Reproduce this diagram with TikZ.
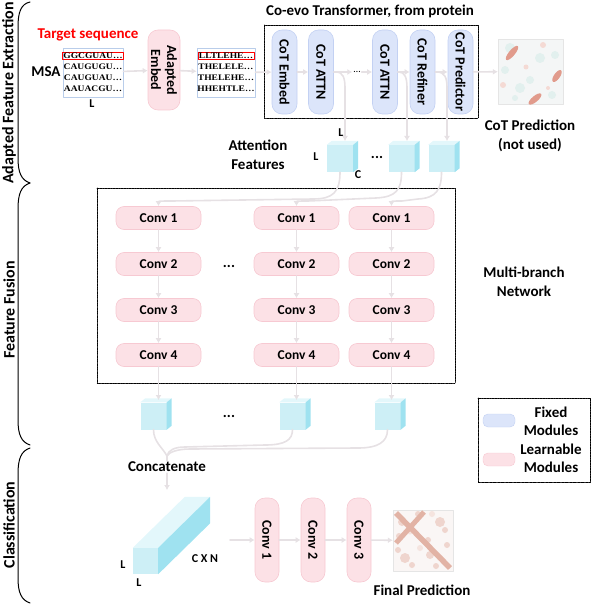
\documentclass[tikz,border=0pt]{standalone}
\usepackage{fontspec}
\setmainfont{Carlito}
\newfontfamily\seqfont{Liberation Serif}
\usetikzlibrary{arrows.meta,calc}
\definecolor{flowgray}{HTML}{E6E1E4}
\definecolor{pinkfill}{HTML}{FCE1E6}
\definecolor{pinkline}{HTML}{F7C9D2}
\definecolor{bluefill}{HTML}{DCE5FA}
\definecolor{blueline}{HTML}{C3D1F3}
\definecolor{cubefront}{HTML}{CDEFF6}
\definecolor{cubeside}{HTML}{9FE2F0}
\definecolor{cubetop}{HTML}{E3F7FB}
\definecolor{seqbox}{HTML}{B9CDEA}
\definecolor{predbg}{HTML}{F4F6F6}
\definecolor{predred}{HTML}{D9826F}
\definecolor{predteal}{HTML}{E2F0EE}
\definecolor{finalbg}{HTML}{FAF6F5}
\definecolor{finalc}{HTML}{E2B3A5}
\newcommand{\featcube}[2]{%
  \node[cubeface] (#1) at (#2) {};
  \fill[cubetop] (#1.north west) -- ++(5,-4) -- ($(#1.north east)+(5,-4)$) -- (#1.north east) -- cycle;
  \fill[cubeside] (#1.north east) -- ++(5,-4) -- ($(#1.south east)+(5,-4)$) -- (#1.south east) -- cycle;
}

\begin{document}
\begin{tikzpicture}[x=1pt,y=-1pt,line cap=round,line join=round,
  every node/.style={font=\fontsize{15}{18.5}\selectfont\bfseries,inner sep=1pt},
  flow/.style={draw=flowgray,line width=1.6pt,-{Latex[length=5pt,width=6pt]}},
  flowline/.style={draw=flowgray,line width=1.6pt},
  fixedmod/.style={draw=blueline,fill=bluefill,rounded corners=10pt,line width=0.6pt,inner sep=0pt,
    minimum width=84pt,minimum height=25pt,rotate=-90,font=\fontsize{14}{16}\selectfont\bfseries},
  learnmod/.style={draw=pinkline,fill=pinkfill,rounded corners=10pt,line width=0.6pt,inner sep=0pt,
    minimum width=84pt,minimum height=24pt,rotate=-90,font=\fontsize{14}{16}\selectfont\bfseries},
  convbox/.style={draw=pinkline,fill=pinkfill,rounded corners=8pt,line width=0.6pt,inner sep=0pt,
    minimum width=85pt,minimum height=23pt,font=\fontsize{13.5}{15}\selectfont\bfseries},
  seqrow/.style={font=\fontsize{8.5}{9}\selectfont\seqfont\bfseries,inner sep=0.6pt,xscale=1.12},
  seqframe/.style={draw=seqbox,line width=0.8pt,minimum width=60pt,minimum height=49pt,inner sep=0pt},
  cubeface/.style={fill=cubefront,minimum width=26pt,minimum height=27pt,inner sep=0pt},
  modframe/.style={draw,line width=0.6pt,dash pattern=on 0.9pt off 0.7pt},
  sidelabel/.style={rotate=90,font=\fontsize{16}{18}\selectfont\bfseries},
  dimlabel/.style={font=\fontsize{12}{13}\selectfont\bfseries}]
  \useasboundingbox (0,0) rectangle (592,604);

  \draw[line width=1pt] (30,2) .. controls (21,4) and (18,12) .. (18,27) -- (18,158)
    .. controls (18,172) and (21,180) .. (30,183);
  \draw[line width=1pt] (30,183) .. controls (21,186) and (18,194) .. (18,209) -- (18,420)
    .. controls (18,434) and (21,442) .. (30,445);
  \draw[line width=1pt] (30,448) .. controls (21,451) and (18,459) .. (18,474) -- (18,578)
    .. controls (18,592) and (21,600) .. (30,603);
  \node[sidelabel] (secA) at (9,93) {Adapted Feature Extraction};
  \node[sidelabel] (secB) at (9,310) {Feature Fusion};
  \node[sidelabel] (secC) at (9,525) {Classification};

  \node[text=red] (target) at (88,35) {Target sequence};
  \node (msalabel) at (46,72) {MSA};
  \node[seqframe] (msa) at (93,72.5) {};
  \node[seqrow,draw=red,line width=0.9pt,minimum width=52pt] (msa1) at (93,56) {GGCGUAU\dots};
  \node[seqrow] (msa2) at (93,67) {CAUGUGU\dots};
  \node[seqrow] (msa3) at (93,78) {CAUGUAU\dots};
  \node[seqrow] (msa4) at (93,89) {AAUACGU\dots};
  \node[dimlabel] (msalen) at (92,104) {L};
  \node[learnmod,minimum width=80pt,minimum height=32pt,align=center] (adembed) at (164,70) {Adapted\\Embed};
  \node[seqframe,minimum width=58pt] (prot) at (226,72.5) {};
  \node[seqrow,draw=red,line width=0.9pt,minimum width=50pt] (prot1) at (226,56) {LLTLEHE\dots};
  \node[seqrow] (prot2) at (226,67) {THELELE\dots};
  \node[seqrow] (prot3) at (226,78) {THELEHE\dots};
  \node[seqrow] (prot4) at (226,89) {HHEHTLE\dots};
  \draw[flow] (msa) -- (adembed);
  \draw[flow] (adembed) -- (prot);

  \node (coevotitle) at (370,11) {Co-evo Transformer, from protein};
  \draw[modframe] (264,25) rectangle (478,118);
  \node[fixedmod] (cotembed) at (284.5,72) {CoT Embed};
  \node[fixedmod] (cotattnA) at (321,72) {CoT ATTN};
  \node[font=\fontsize{10}{11}\selectfont] (cotdots) at (357,72) {\dots};
  \node[fixedmod] (cotattnB) at (385,72) {CoT ATTN};
  \node[fixedmod] (cotrefine) at (422.5,72) {CoT Refiner};
  \node[fixedmod] (cotpredict) at (460.5,72) {CoT Predictor};
  \draw[flow] (prot) -- (cotembed);
  \draw[flow] (cotembed) -- (cotattnA);
  \draw[flow] (cotattnA) -- (cotdots);
  \draw[flow] (cotdots) -- (cotattnB);
  \draw[flow] (cotattnB) -- (cotrefine);
  \draw[flow] (cotrefine) -- (cotpredict);

  \node[draw=black!10,fill=predbg,minimum size=65pt,inner sep=0pt] (cotmap) at (530.5,71.5) {};
  \fill[predteal] (510,48) circle (5) (540,58) circle (5) (520,88) circle (5) (552,95) circle (4)
    (505,70) circle (4) (530,80) circle (4) (555,55) circle (4) (515,98) circle (3);
  \fill[predred!30] (543,45) circle (3) (526,67) circle (2.5) (503,85) circle (3) (548,88) circle (2);
  \fill[predred!80,rotate around={50:(512,53)}] (512,53) ellipse [x radius=9,y radius=3];
  \fill[predred!80,rotate around={55:(557,76)}] (557,76) ellipse [x radius=7,y radius=3];
  \fill[predred!80,rotate around={40:(535,99)}] (535,99) ellipse [x radius=8,y radius=3];
  \draw[flow] (cotpredict) -- (cotmap);
  \node[align=center] (cotpredlabel) at (530,136) {CoT Prediction\\(not used)};

  \node[align=center] (attnlabel) at (258,155) {Attention\\Features};
  \featcube{featA}{340,158.5}
  \featcube{featB}{401.5,158.5}
  \featcube{featC}{441.5,158.5}
  \node (featdots) at (377,157) {...};
  \node[dimlabel] (featL1) at (341,133) {L};
  \node[dimlabel] (featL2) at (316,157) {L};
  \node[dimlabel] (featC1) at (358,175) {C};
  \coordinate (tapA) at (336,72);
  \coordinate (tapB) at (399,72);
  \coordinate (tapC) at (437,72);
  \coordinate (featAin) at (345,141);
  \coordinate (featBin) at (407,141);
  \coordinate (featCin) at (447,141);
  \draw[flow] (tapA) .. controls (343,72) and (345,78) .. (345,88) -- (featAin);
  \draw[flow] (tapB) .. controls (405,72) and (407,78) .. (407,88) -- (featBin);
  \draw[flow] (tapC) .. controls (445,72) and (447,78) .. (447,88) -- (featCin);

  \draw[modframe] (97,188) rectangle (455,383);
  \node[convbox] (convA1) at (158.5,218) {Conv 1};
  \node[convbox] (convA2) at (158.5,264) {Conv 2};
  \node[convbox] (convA3) at (158.5,310) {Conv 3};
  \node[convbox] (convA4) at (158.5,355) {Conv 4};
  \node[convbox] (convB1) at (296.5,218) {Conv 1};
  \node[convbox] (convB2) at (296.5,264) {Conv 2};
  \node[convbox] (convB3) at (296.5,310) {Conv 3};
  \node[convbox] (convB4) at (296.5,355) {Conv 4};
  \node[convbox] (convC1) at (391.5,218) {Conv 1};
  \node[convbox] (convC2) at (391.5,264) {Conv 2};
  \node[convbox] (convC3) at (391.5,310) {Conv 3};
  \node[convbox] (convC4) at (391.5,355) {Conv 4};
  \node (convdots) at (229,266) {...};
  \draw[flow] (convA1) -- (convA2); \draw[flow] (convA2) -- (convA3); \draw[flow] (convA3) -- (convA4);
  \draw[flow] (convB1) -- (convB2); \draw[flow] (convB2) -- (convB3); \draw[flow] (convB3) -- (convB4);
  \draw[flow] (convC1) -- (convC2); \draw[flow] (convC2) -- (convC3); \draw[flow] (convC3) -- (convC4);
  \draw[flow] (featA.south) .. controls (340,192) and (333,199) .. (313,199) -- (172,201)
    .. controls (163,201) and (158.5,201) .. (convA1.north);
  \draw[flow] (featB.south) .. controls (401.5,190) and (396,197) .. (376,198) -- (308,201)
    .. controls (300,201) and (296.5,201) .. (convB1.north);
  \draw[flow] (featC.south) .. controls (441.5,190) and (436,198) .. (418,199) -- (402,201)
    .. controls (395,201) and (391.5,201) .. (convC1.north);
  \node[align=center] (multilabel) at (524,282) {Multi-branch\\Network};

  \featcube{outA}{153.5,416}
  \featcube{outB}{292.5,416}
  \featcube{outC}{387.5,416}
  \node (outdots) at (229,416) {...};
  \coordinate (outAin) at (158.5,400);
  \coordinate (outBin) at (296.5,400);
  \coordinate (outCin) at (391.5,400);
  \draw[flow] (convA4) -- (outAin);
  \draw[flow] (convB4) -- (outBin);
  \draw[flow] (convC4) -- (outCin);
  \coordinate (join) at (167,456);
  \draw[flowline] (outA.south) .. controls (153.5,442) and (163,448) .. (join);
  \draw[flowline] (outB.south) .. controls (292.5,440) and (285,445) .. (265,445) -- (185,447)
    .. controls (175,447) and (168,450) .. (join);
  \draw[flowline] (outC.south) .. controls (387.5,442) and (378,448) .. (358,448) -- (190,449)
    .. controls (178,449) and (169,452) .. (join);
  \node (concat) at (167,467) {Concatenate};
  \coordinate (bigin) at (167,490);
  \draw[flowline] (join) -- (concat);
  \draw[flow] (concat) -- (bigin);

  \node[fill=cubefront,minimum width=25pt,minimum height=26pt,inner sep=0pt] (bigcube) at (145.5,561) {};
  \fill[cubetop] (bigcube.north west) -- ++(52,-51) -- ($(bigcube.north east)+(52,-51)$) -- (bigcube.north east) -- cycle;
  \fill[cubeside] (bigcube.north east) -- ++(52,-51) -- ($(bigcube.south east)+(52,-51)$) -- (bigcube.south east) -- cycle;
  \node[dimlabel] (bigL1) at (123,565) {L};
  \node[dimlabel] (bigL2) at (139,583) {L};
  \node[dimlabel] (bigCN) at (205,559) {C X N};
  \coordinate (bigout) at (230,540);
  \node[learnmod] (clsA) at (267,540) {Conv 1};
  \node[learnmod] (clsB) at (313,540) {Conv 2};
  \node[learnmod] (clsC) at (359,540) {Conv 3};
  \node[draw=black!10,fill=finalbg,minimum width=60pt,minimum height=61pt,inner sep=0pt] (finalmap) at (423,540.5) {};
  \fill[finalc!55] (402,522) circle (4) (440,522) circle (5) (430,555) circle (4) (405,558) circle (5)
    (447,545) circle (3) (399,536) circle (3) (418,514) circle (3) (436,566) circle (3)
    (445,530) circle (3) (412,565) circle (3) (428,540) circle (3) (398,550) circle (3);
  \fill[finalc!35] (432,514) circle (3) (420,548) circle (3) (440,558) circle (3) (410,532) circle (2.5);
  \draw[finalc,line width=5.5pt,line cap=butt] (396,513) -- (450,568);
  \draw[finalc,line width=5pt,line cap=butt] (424,512) -- (396,543);
  \draw[flow] (bigout) -- (clsA);
  \draw[flow] (clsA) -- (clsB);
  \draw[flow] (clsB) -- (clsC);
  \draw[flow] (clsC) -- (finalmap);
  \node (finallabel) at (422,590) {Final Prediction};

  \draw[modframe] (478,398) rectangle (590,482);
  \node[draw=blueline,fill=bluefill,rounded corners=5pt,minimum width=32pt,minimum height=13pt] (fixedkey) at (499,420.5) {};
  \node[draw=pinkline,fill=pinkfill,rounded corners=5pt,minimum width=32pt,minimum height=13pt] (learnkey) at (499,459.5) {};
  \node[align=center] (fixedtext) at (551,421.5) {Fixed\\Modules};
  \node[align=center] (learntext) at (551,458.5) {Learnable\\Modules};
\end{tikzpicture}
\end{document}
